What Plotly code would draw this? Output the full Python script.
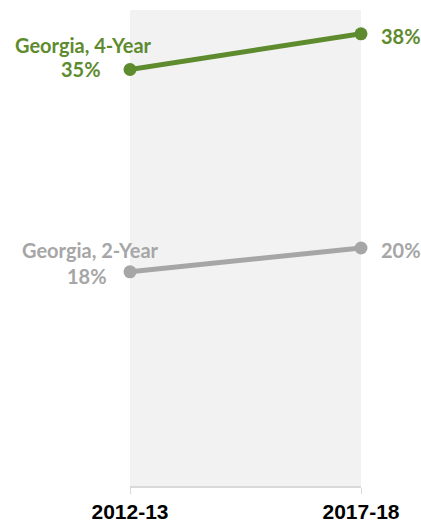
import plotly.graph_objects as go

years = ["2012-13", "2017-18"]
series_names = ["Georgia, 4-Year", "Georgia, 2-Year"]
values_4yr = [35, 38]
values_2yr = [18, 20]
colors = ["#5E8B2E", "#A6A6A6"]

series = [values_4yr, values_2yr]

fig = go.Figure()
for name, vals, col in zip(series_names, series, colors):
    fig.add_trace(go.Scatter(
        x=[0, 1], y=vals, mode="lines+markers",
        line=dict(color=col, width=5),
        marker=dict(color=col, size=13),
        name=name, showlegend=False, hoverinfo="skip", cliponaxis=False))

label_font = "Lato, 'Open Sans', sans-serif"
# per-series label offsets (style)
left_val_shift = [(-27, 1), (-21, -4)]
left_name_shift = [(-47, 25), (-40, 22)]
right_val_shift = [(18, -2), (18, -2)]

ann = []
for i, (name, vals, col) in enumerate(zip(series_names, series, colors)):
    f = dict(family=label_font, size=20, color=col, weight="bold")
    ann.append(dict(x=0, y=vals[0], xref="x", yref="y", text=f"{vals[0]}%",
                    showarrow=False, xanchor="right", yanchor="middle",
                    xshift=left_val_shift[i][0], yshift=left_val_shift[i][1], font=f))
    ann.append(dict(x=0, y=vals[0], xref="x", yref="y", text=name,
                    showarrow=False, xanchor="center", yanchor="middle",
                    xshift=left_name_shift[i][0], yshift=left_name_shift[i][1], font=f))
    ann.append(dict(x=1, y=vals[1], xref="x", yref="y", text=f"{vals[1]}%",
                    showarrow=False, xanchor="left", yanchor="middle",
                    xshift=right_val_shift[i][0], yshift=right_val_shift[i][1], font=f))

fig.update_layout(
    width=421, height=523,
    margin=dict(l=130, r=60, t=10, b=37),
    plot_bgcolor="#F2F2F2", paper_bgcolor="white",
    annotations=ann,
    xaxis=dict(range=[0, 1], tickvals=[0, 1], ticktext=years,
               showgrid=False, zeroline=False, showline=True,
               linecolor="#D9D9D9", linewidth=1.5, automargin=False,
               ticks="outside", ticklen=6, tickcolor="#D9D9D9",
               tickfont=dict(family="Liberation Sans, Arial", size=21,
                             color="black", weight="bold")),
    yaxis=dict(range=[0, 40], visible=False, showgrid=False, zeroline=False,
               automargin=False),
)

fig.write_html("out.html", config={"displayModeBar": False},
               post_script="document.body.style.margin='0';document.body.style.overflow='hidden';")
